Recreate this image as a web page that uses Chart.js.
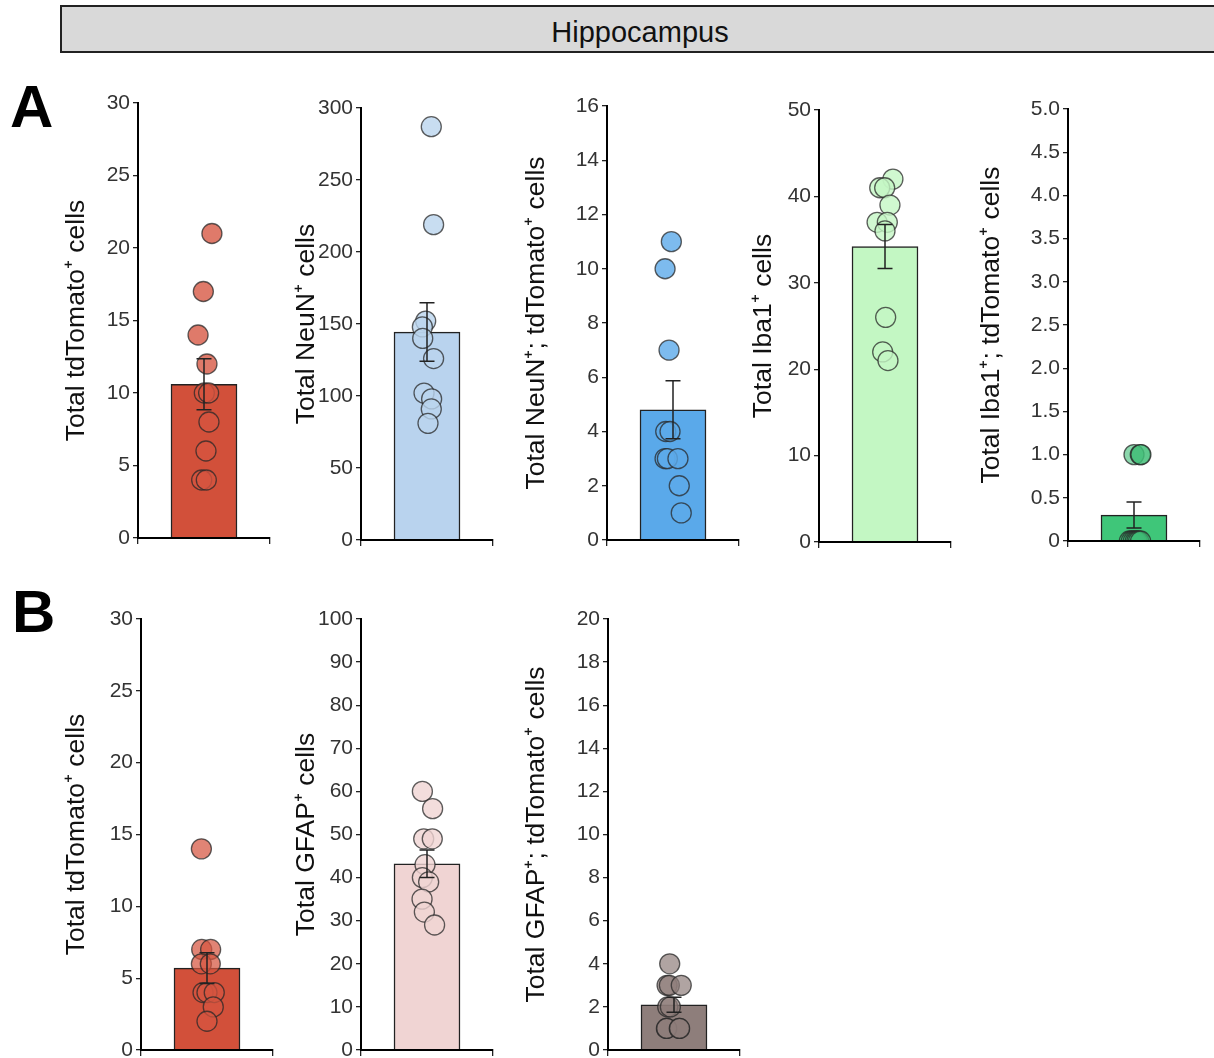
<!DOCTYPE html>
<html lang="en">
<head>
<meta charset="UTF-8">
<title>Hippocampus cell counts</title>
<script src="https://cdn.jsdelivr.net/npm/chart.js"></script>
<style>
  html, body {
    margin: 0;
    padding: 0;
    background: #fff;
    width: 1214px;
    height: 1058px;
    overflow: hidden;
    position: relative;
    font-family: "Liberation Sans", Arial, sans-serif;
  }
  .banner {
    position: absolute;
    left: 60px;
    top: 5px;
    width: 1156px;
    height: 44px;
    line-height: 50px;
    background: #d9d9d9;
    border: 2px solid #222;
    text-align: center;
    font-size: 29px;
    color: #111;
    overflow: hidden;
  }
  .panel {
    position: absolute;
    font-size: 60px;
    line-height: 60px;
    font-weight: bold;
    color: #000;
  }
  canvas { position: absolute; }
</style>
</head>
<body>
<div class="banner">Hippocampus</div>
<div class="panel" style="left:10px;top:77px">A</div>
<div class="panel" style="left:12px;top:582px">B</div>

<script>
// ---- data ----
const yLabels = [
  'Total tdTomato⁺ cells',
  'Total NeuN⁺ cells',
  'Total NeuN⁺; tdTomato⁺ cells',
  'Total Iba1⁺ cells',
  'Total Iba1⁺; tdTomato⁺ cells',
  'Total tdTomato⁺ cells',
  'Total GFAP⁺ cells',
  'Total GFAP⁺; tdTomato⁺ cells'
];
const yMax  = [30, 300, 16, 50, 5, 30, 100, 20];
const yStep = [5, 50, 2, 10, 0.5, 5, 10, 2];

const barMeans = [10.6, 144.4, 4.8, 34.2, 0.3, 5.7, 43.2, 2.1];
const barSems  = [1.76, 20.3, 1.07, 2.55, 0.15, 1.07, 3.2, 0.35];

// individual animals (panel A)
const tdTomatoA = [21, 17, 14, 12, 10, 10, 8, 6, 4, 4];
const neunA     = [287, 219, 152, 148, 140, 126, 102, 98, 91, 81];
const neunTdA   = [11, 10, 7, 4, 4, 3, 3, 3, 2, 1];
const iba1A     = [42, 41, 41, 39, 37, 37, 36, 26, 22, 21];
const iba1TdA   = [1, 1, 1, 0, 0, 0, 0, 0, 0, 0];
// individual animals (panel B)
const tdTomatoB = [14, 7, 7, 6, 6, 4, 4, 4, 3, 2];
const gfapB     = [60, 56, 49, 49, 43, 40, 39, 35, 32, 29];
const gfapTdB   = [4, 3, 3, 3, 2, 2, 1, 1, 1, 1];

// horizontal jitter of the dots (x units, bar spans -0.5..0.5)
const jitterTdTomatoA = [0.24, -0.02, -0.18, 0.09, 0.01, 0.14, 0.15, 0.06, -0.07, 0.07];
const jitterNeunA     = [0.13, 0.20, -0.04, -0.14, -0.13, 0.20, -0.09, 0.14, 0.13, 0.03];
const jitterNeunTdA   = [-0.05, -0.24, -0.12, -0.22, -0.09, -0.24, -0.17, 0.15, 0.19, 0.25];
const jitterIba1A     = [0.24, -0.16, -0.01, 0.15, -0.24, 0.07, 0, 0.02, -0.07, 0.09];
const jitterIba1TdA   = [0, 0.19, 0.21, -0.14, -0.08, -0.02, 0.04, 0.09, 0.14, 0.2];
const jitterTdTomatoB = [-0.17, -0.16, 0.11, -0.17, 0.10, -0.12, 0, 0.22, 0.19, 0];
const jitterGfapB     = [-0.14, 0.17, -0.10, 0.16, -0.06, -0.14, 0.05, -0.15, -0.08, 0.23];
const jitterGfapTdB   = [-0.13, -0.21, -0.14, 0.22, -0.19, -0.11, -0.23, -0.22, 0.16, 0.17];

const dotValues = [tdTomatoA, neunA, neunTdA, iba1A, iba1TdA, tdTomatoB, gfapB, gfapTdB];
const dotJitter = [jitterTdTomatoA, jitterNeunA, jitterNeunTdA, jitterIba1A, jitterIba1TdA,
                   jitterTdTomatoB, jitterGfapB, jitterGfapTdB];

// ---- styling / placement ----
const barColors = ['#d2503a', '#b9d3ee', '#5aa9ea', '#c3f7c3', '#3fc679', '#d2503a', '#f0d4d3', '#8e7e7b'];
const dotColors = [
  'rgba(214, 84, 64, 0.78)',
  'rgba(186, 212, 238, 0.8)',
  'rgba(92, 170, 234, 0.8)',
  'rgba(196, 246, 196, 0.8)',
  'rgba(64, 190, 118, 0.6)',
  'rgba(214, 84, 64, 0.72)',
  'rgba(240, 212, 211, 0.8)',
  'rgba(142, 126, 123, 0.7)'
];

// where each small plot sits on the page
const frames = [
  { titleX: 77,  axisX: 138,  top: 103, bottom: 538 },
  { titleX: 307, axisX: 361,  top: 108, bottom: 540 },
  { titleX: 537, axisX: 607,  top: 106, bottom: 540 },
  { titleX: 764, axisX: 819,  top: 110, bottom: 542 },
  { titleX: 992, axisX: 1068, top: 109, bottom: 541 },
  { titleX: 77,  axisX: 141,  top: 619, bottom: 1050 },
  { titleX: 307, axisX: 361,  top: 619, bottom: 1050 },
  { titleX: 537, axisX: 608,  top: 619, bottom: 1050 }
];

const FONT = '"Liberation Sans", Arial, sans-serif';
const TITLE_SIZE = 26.5;
const PLOT_W = 132;   // axis to end of x line
const PAD_TOP = 20, PAD_BOTTOM = 20, X_AXIS_H = 10;

// mean +/- SEM whiskers
const errorBars = {
  id: 'errorBars',
  afterDatasetsDraw(chart, args, opts) {
    const { ctx, scales: { x, y } } = chart;
    const cx = x.getPixelForValue(0);
    const yTop = y.getPixelForValue(opts.mean + opts.sem);
    const yBot = y.getPixelForValue(opts.mean - opts.sem);
    ctx.save();
    ctx.strokeStyle = '#222';
    ctx.lineWidth = 1.5;
    ctx.beginPath();
    ctx.moveTo(cx, yTop); ctx.lineTo(cx, yBot);
    ctx.moveTo(cx - 7.5, yTop); ctx.lineTo(cx + 7.5, yTop);
    ctx.moveTo(cx - 7.5, yBot); ctx.lineTo(cx + 7.5, yBot);
    ctx.stroke();
    ctx.restore();
  }
};

frames.forEach((f, i) => {
  const left = Math.round(f.titleX - TITLE_SIZE * 1.2 / 2);
  const yAxisW = f.axisX - left;
  const canvas = document.createElement('canvas');
  canvas.width = yAxisW + PLOT_W + 6;
  canvas.height = (f.bottom - f.top) + PAD_TOP + PAD_BOTTOM + X_AXIS_H;
  canvas.style.left = left + 'px';
  canvas.style.top = (f.top - PAD_TOP) + 'px';
  document.body.appendChild(canvas);

  const dots = dotValues[i].map((v, k) => ({ x: dotJitter[i][k], y: v }));

  new Chart(canvas, {
    type: 'bar',
    data: {
      datasets: [
        {
          type: 'scatter',
          data: dots,
          order: 0,
          pointRadius: 10,
          pointBackgroundColor: dotColors[i],
          pointBorderColor: 'rgba(40, 40, 40, 0.75)',
          pointBorderWidth: 1.3
        },
        {
          type: 'bar',
          data: [{ x: 0, y: barMeans[i] }],
          order: 1,
          backgroundColor: barColors[i],
          borderColor: '#222',
          borderWidth: 1.5,
          barThickness: 66
        }
      ]
    },
    options: {
      responsive: false,
      animation: false,
      events: [],
      layout: { autoPadding: false, padding: { top: PAD_TOP, bottom: PAD_BOTTOM, left: 0, right: 6 } },
      plugins: {
        legend: { display: false },
        tooltip: { enabled: false },
        errorBars: { mean: barMeans[i], sem: barSems[i] }
      },
      scales: {
        x: {
          type: 'linear',
          min: -1,
          max: 1,
          afterBuildTicks: s => { s.ticks = [{ value: 0 }]; },
          afterFit: s => { s.height = X_AXIS_H; },
          ticks: { display: false },
          grid: { drawOnChartArea: false, drawTicks: true, tickLength: 6, color: '#222', lineWidth: 1.3 },
          border: { display: true, color: '#000', width: 2, z: 1 }
        },
        y: {
          min: 0,
          max: yMax[i],
          afterFit: s => { s.width = yAxisW; },
          ticks: {
            stepSize: yStep[i],
            padding: 3,
            color: '#333',
            font: { size: 21, family: FONT },
            callback: v => v === 0 ? '0' : (yStep[i] < 1 ? v.toFixed(1) : String(v))
          },
          grid: { drawOnChartArea: false, drawTicks: true, tickLength: 5, color: '#222', lineWidth: 1.3 },
          border: { display: true, color: '#000', width: 2, z: 1 },
          title: {
            display: true,
            text: yLabels[i],
            color: '#111',
            padding: 0,
            font: { size: TITLE_SIZE, family: FONT }
          }
        }
      }
    },
    plugins: [errorBars]
  });
});
</script>
</body>
</html>
